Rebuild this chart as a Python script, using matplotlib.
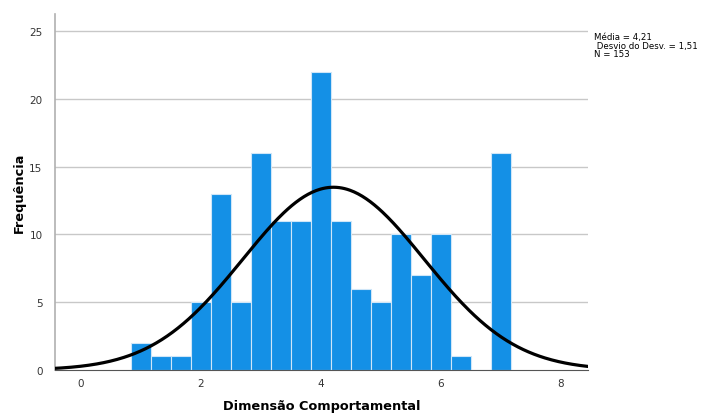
import numpy as np
import matplotlib.pyplot as plt

# histogram bins (centres) and counts
bin_centres = [1.0, 1.333, 1.667, 2.0, 2.333, 2.667, 3.0, 3.333, 3.667, 4.0,
               4.333, 4.667, 5.0, 5.333, 5.667, 6.0, 6.333, 6.667, 7.0]
counts = [2, 1, 1, 5, 13, 5, 16, 11, 11, 22, 11, 6, 5, 10, 7, 10, 1, 0, 16]
bin_width = 1 / 3

media = 4.21
desvio = 1.51
n = 153

x_ticks = [0, 2, 4, 6, 8]
y_ticks = [0, 5, 10, 15, 20, 25]

fig = plt.figure(figsize=(7.02, 4.14), dpi=100)
ax = fig.add_axes([0.0783, 0.1039, 0.7593, 0.8599])

ax.bar(bin_centres, counts, width=bin_width, color='#1490e6',
       edgecolor='#cfe6f8', linewidth=0.8, zorder=2)

# normal curve scaled to the histogram
xs = np.linspace(-0.5, 8.5, 400)
ys = n * bin_width * np.exp(-0.5 * ((xs - media) / desvio) ** 2) / (desvio * np.sqrt(2 * np.pi))
ax.plot(xs, ys, color='black', lw=2.3, zorder=3)

ax.set_xlim(-0.43, 8.45)
ax.set_ylim(0, 26.25)
ax.set_xticks(x_ticks)
ax.set_yticks(y_ticks)
ax.tick_params(length=0, labelsize=7.5, colors='#333333')
ax.tick_params(axis='x', pad=6)
ax.tick_params(axis='y', pad=9)

for y in y_ticks[1:]:
    ax.axhline(y, color='#c8c8c8', lw=1, zorder=1)

for s in ['top', 'right']:
    ax.spines[s].set_visible(False)
ax.spines['left'].set_color('#b0b0b0')
ax.spines['bottom'].set_color('#555555')
ax.spines['left'].set_linewidth(1.2)

fig.text(322 / 702, 1 - 407 / 414, 'Dimensão Comportamental', fontsize=9.3,
         fontweight='bold', ha='center', va='center')
fig.text(19 / 702, 1 - 193 / 414, 'Frequência', fontsize=9.3, fontweight='bold',
         ha='center', va='center', rotation=90)

fig.text(594 / 702, 1 - 33 / 414,
         'Média = 4,21\n Desvio do Desv. = 1,51\nN = 153',
         fontsize=6.2, va='top', ha='left', linespacing=0.95)

fig.savefig('out.png', dpi=100)
